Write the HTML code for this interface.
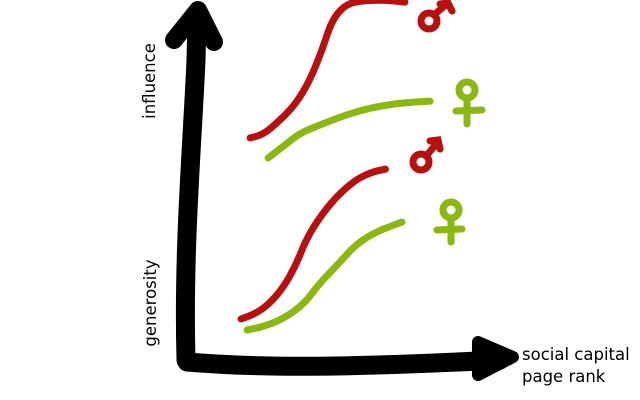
<!DOCTYPE html>
<html><head><meta charset="utf-8"><style>
html,body{margin:0;padding:0;background:#fff;width:640px;height:400px;overflow:hidden}
svg{display:block}
text{font-family:"DejaVu Sans","Liberation Sans",sans-serif;font-size:16.5px;fill:#000}
</style></head><body>
<svg id="chart" width="640" height="400" viewBox="0 0 640 400">
<g id="axes">
<path d="M186,360 C183,250 192,150 196,60 L197,18" stroke="#000" stroke-width="19" fill="none" stroke-linecap="round"/>
<path d="M174,40 L198,10 L214,42" stroke="#000" stroke-width="18" fill="none" stroke-linecap="round" stroke-linejoin="round"/>
<path d="M187,362 C260,368 340,368 500,360" stroke="#000" stroke-width="19" fill="none" stroke-linecap="round"/>
<polygon points="478,342 513,357 478,375" fill="#000" stroke="#000" stroke-width="12" stroke-linejoin="round"/>
</g>
<text transform="translate(155,81) rotate(-90)" text-anchor="middle">influence</text>
<text transform="translate(156,303) rotate(-90)" text-anchor="middle">generosity</text>
<text x="522" y="360">social capital</text>
<text x="522" y="382">page rank</text>
<g id="series"></g>
<g id="symbols">
<g stroke="#b80f0f" stroke-width="7" fill="none" stroke-linecap="round">
<circle cx="429" cy="21" r="8"/><path d="M435,14 L448,3 M440,4 L448,3 L452,11"/></g>
<g stroke="#b80f0f" stroke-width="7" fill="none" stroke-linecap="round">
<circle cx="421" cy="162" r="8"/><path d="M427,155 L437,143 M430,141 L438,140 L440,149"/></g>
<g stroke="#8ab810" stroke-width="7" fill="none" stroke-linecap="round">
<circle cx="467" cy="90" r="8"/><path d="M467,98 L467,124 M456,111 L482,110"/></g>
<g stroke="#8ab810" stroke-width="7" fill="none" stroke-linecap="round">
<circle cx="451" cy="210" r="8"/><path d="M451,218 L451,242 M437,230 L462,229"/></g>
</g>
</svg>
<script>
const redTopX=[21.7,25.7,30,36.7,41.7,45.7,49,53.3,58.3,66.7,73.3];
const redTopY=[63.1,63.9,66.7,72.2,79.2,87.5,95.8,100,101.2,101.4,100.8];
const greenTopX=[27.7,33.3,38.3,45,53.3,61.7,71.7,81.7];
const greenTopY=[57.5,61.1,64.4,66.7,69.4,71.4,72.8,73.3];
const redBottomX=[18.7,23.3,27.7,32.7,37,40.3,44.3,50,56.7,62.3,66.8];
const redBottomY=[12.8,14.2,16.7,21.4,27.8,34.7,40.3,46.4,51.4,53.6,54.4];
const greenBottomX=[20.7,26.7,33.3,40,44.3,51.7,56.7,63.3,72.3];
const greenBottomY=[9.7,10.8,13.1,17.2,22.2,28.6,33.3,36.9,39.7];
const seriesNames=['influence-male','influence-female','generosity-male','generosity-female'];
const seriesColors=['#b80f0f','#8ab810','#b80f0f','#8ab810'];
function xScale(v){return 185+v*3;}
function yScale(v){return 365-v*3.6;}
const all=[[redTopX,redTopY],[greenTopX,greenTopY],[redBottomX,redBottomY],[greenBottomX,greenBottomY]];
const g=document.getElementById('series');
all.forEach(function(s,i){
  const xs=s[0],ys=s[1];
  let d='';
  for(let k=0;k<xs.length;k++){
    const px=xScale(xs[k]),py=yScale(ys[k]);
    if(k===0){d='M'+px+','+py;}
    else{
      const ppx=xScale(xs[k-1]),ppy=yScale(ys[k-1]);
      const mx=(ppx+px)/2,my=(ppy+py)/2;
      d+=' Q'+ppx+','+ppy+' '+mx+','+my;
    }
  }
  d+=' L'+xScale(xs[xs.length-1])+','+yScale(ys[ys.length-1]);
  const p=document.createElementNS('http://www.w3.org/2000/svg','path');
  p.setAttribute('d',d);
  p.setAttribute('stroke',seriesColors[i]);
  p.setAttribute('stroke-width','7');
  p.setAttribute('fill','none');
  p.setAttribute('stroke-linecap','round');
  p.setAttribute('stroke-linejoin','round');
  
  
  g.appendChild(p);
});
</script>
</body></html>
